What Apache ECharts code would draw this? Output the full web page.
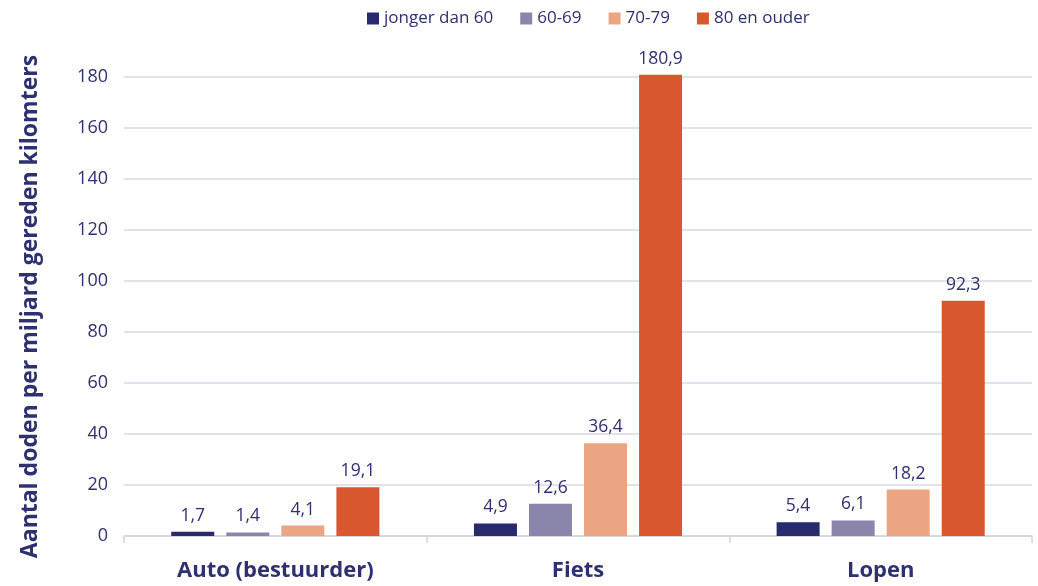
<!DOCTYPE html>
<html><head><meta charset="utf-8">
<script src="https://cdn.jsdelivr.net/npm/echarts@6/dist/echarts.min.js"></script>
<style>html,body{margin:0;padding:0;background:#fff}#c{width:1038px;height:586px}</style>
</head><body><div id="c"></div>
<script>
const categories = ['Auto (bestuurder)', 'Fiets', 'Lopen'];
const seriesNames = ['jonger dan 60', '60-69', '70-79', '80 en ouder'];
const jongerDan60 = [1.7, 4.9, 5.4];
const s60_69 = [1.4, 12.6, 6.1];
const s70_79 = [4.1, 36.4, 18.2];
const s80plus = [19.1, 180.9, 92.3];
const colors = ['#272a6b', '#8a85aa', '#eba582', '#d9572e'];
const yTitle = 'Aantal doden per miljard gereden kilomters';
const txt = '#2e3070';
const font = '"Open Sans", "Noto Sans", sans-serif';
const data = [jongerDan60, s60_69, s70_79, s80plus];
const chart = echarts.init(document.getElementById('c'));
chart.setOption({
  animation: false,
  textStyle: {fontFamily: font},
  legend: {
    top: 5, left: 362, itemWidth: 12, itemHeight: 12, itemGap: 27,
    icon: 'rect',
    textStyle: {color: txt, fontSize: 17, fontFamily: font},
    data: seriesNames
  },
  grid: {left: 124, right: 6, top: 77, bottom: 50},
  xAxis: {
    type: 'category', data: categories,
    axisLine: {lineStyle: {color: '#d4d4dc', width: 1.5}},
    axisTick: {show: true, length: 7, lineStyle: {color: '#d4d4dc', width: 1.5}},
    axisLabel: {color: txt, fontSize: 22, fontWeight: 'bold', margin: 24, fontFamily: font}
  },
  yAxis: {
    type: 'value', min: 0, max: 180, interval: 20,
    name: yTitle, nameLocation: 'middle', nameGap: 82,
    nameTextStyle: {color: txt, fontSize: 23, fontWeight: 'bold', fontFamily: font},
    axisLine: {show: false}, axisTick: {show: false},
    axisLabel: {color: txt, fontSize: 18, margin: 16, fontFamily: font},
    splitLine: {lineStyle: {color: '#d9d9e4', width: 1.5}}
  },
  series: seriesNames.map((n, i) => ({
    name: n, type: 'bar', data: data[i], barWidth: 43, barGap: '28%', clip: false,
    itemStyle: {color: colors[i]},
    label: {show: true, position: 'top', distance: 7, color: txt, fontSize: 17.5, fontFamily: font,
      formatter: p => String(p.value).replace('.', ',')}
  }))
});
</script></body></html>
